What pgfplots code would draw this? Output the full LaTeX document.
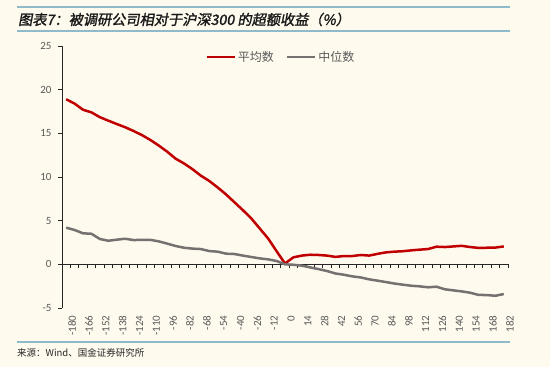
\documentclass[border=0pt]{standalone}
\usepackage{fontspec}
\usepackage{pgfplots}
\pgfplotsset{compat=1.18}
\setmainfont{Carlito}
\newfontfamily\cjk{Noto Sans CJK SC}
\newfontfamily\cjktitle{Noto Sans CJK SC}[FakeSlant=0.18, FakeBold=1.6]
\definecolor{bgc}{HTML}{FEFAEE}
\definecolor{rule}{HTML}{8EBAC9}
\definecolor{redl}{HTML}{C00000}
\definecolor{grayl}{HTML}{767171}
\definecolor{txt}{HTML}{595959}
\begin{document}
\begin{tikzpicture}[x=1pt,y=1pt]
\fill[bgc] (0,0) rectangle (550,367);
\draw[rule, line width=1.4pt] (17,360) -- (510,360);
\draw[rule, line width=1.2pt] (17,336) -- (510,336);
\node[anchor=west, inner sep=0pt, text=black!90] at (18,347.5) {\cjktitle\fontsize{14.2}{16}\selectfont 图表7：被调研公司相对于沪深300 的超额收益（\%）};
\draw[rule, line width=1.2pt] (17,25) -- (510,25);
\node[anchor=west, inner sep=0pt, text=black!85] at (17,14.5) {\cjk\fontsize{9.5}{11}\selectfont 来源：Wind、国金证券研究所};

% zero line with category ticks
\begin{axis}[at={(62pt,102.67pt)}, anchor=south west, scale only axis,
  width=446pt, height=218.33pt, xmin=-0.5, xmax=52.5, ymin=0, ymax=25,
  axis x line*=bottom, axis y line=none,
  xtick={-0.5,0.5,...,52.5}, xticklabels={},
  tick align=outside, major tick length=4pt,
  x axis line style={black!85, line width=0.8pt},
  xtick style={black!85, line width=0.8pt}]
\end{axis}

\begin{axis}[at={(62pt,59pt)}, anchor=south west, scale only axis,
  width=446pt, height=262pt, xmin=-0.5, xmax=52.5, ymin=-5, ymax=25,
  axis y line*=left, axis x line*=bottom,
  x axis line style={draw=none},
  xtick={0,2,...,52},
  xticklabels={-180,-166,-152,-138,-124,-110,-96,-82,-68,-54,-40,-26,-12,0,14,28,42,56,70,84,98,112,126,140,154,168,182},
  xtick style={draw=none},
  xticklabel style={rotate=90, anchor=east, yshift=-6pt, text=txt, font=\fontsize{11}{12}\selectfont},
  ytick={-5,0,...,25},
  yticklabel style={text=txt, font=\fontsize{11}{12}\selectfont, xshift=-3pt},
  /pgf/number format/assume math mode=true,
  tick align=outside, major tick length=4pt,
  y axis line style={black!85, line width=0.8pt},
  ytick style={black!85, line width=0.8pt},
  legend columns=2,
  legend style={at={(0.491,0.958)}, anchor=center, draw=none, fill=none,
    font=\cjk\fontsize{12}{14}\selectfont, text=txt,
    /tikz/every even column/.append style={column sep=10pt}},
  legend image code/.code={\draw[#1] (0pt,0pt) -- (28pt,0pt);},
  clip=false]
\addplot[redl, line width=2.5pt, line join=round] coordinates {
(0,18.9)(1,18.4)(2,17.7)(3,17.4)(4,16.85)(5,16.45)(6,16.07)(7,15.7)(8,15.27)(9,14.8)
(10,14.24)(11,13.6)(12,12.9)(13,12.1)(14,11.55)(15,10.9)(16,10.15)(17,9.55)(18,8.8)(19,8.0)
(20,7.1)(21,6.2)(22,5.25)(23,4.1)(24,2.95)(25,1.5)(26,0.1)(27,0.8)(28,1.0)(29,1.1)
(30,1.07)(31,1.0)(32,0.85)(33,0.95)(34,0.95)(35,1.07)(36,1.0)(37,1.2)(38,1.37)(39,1.45)
(40,1.5)(41,1.6)(42,1.68)(43,1.75)(44,2.02)(45,1.98)(46,2.05)(47,2.12)(48,1.98)(49,1.88)
(50,1.9)(51,1.92)(52,2.05)};
\addlegendentry{平均数}
\addplot[grayl, line width=2.5pt, line join=round] coordinates {
(0,4.2)(1,3.93)(2,3.55)(3,3.5)(4,2.9)(5,2.7)(6,2.82)(7,2.93)(8,2.78)(9,2.8)
(10,2.8)(11,2.63)(12,2.37)(13,2.1)(14,1.9)(15,1.8)(16,1.75)(17,1.52)(18,1.45)(19,1.22)
(20,1.18)(21,1.0)(22,0.84)(23,0.68)(24,0.57)(25,0.38)(26,0.0)(27,-0.05)(28,-0.15)(29,-0.35)
(30,-0.55)(31,-0.77)(32,-1.05)(33,-1.19)(34,-1.38)(35,-1.5)(36,-1.72)(37,-1.87)(38,-2.03)(39,-2.2)
(40,-2.33)(41,-2.45)(42,-2.52)(43,-2.63)(44,-2.56)(45,-2.86)(46,-2.98)(47,-3.1)(48,-3.25)(49,-3.5)
(50,-3.52)(51,-3.6)(52,-3.4)};
\addlegendentry{中位数}
\end{axis}
\end{tikzpicture}
\end{document}
